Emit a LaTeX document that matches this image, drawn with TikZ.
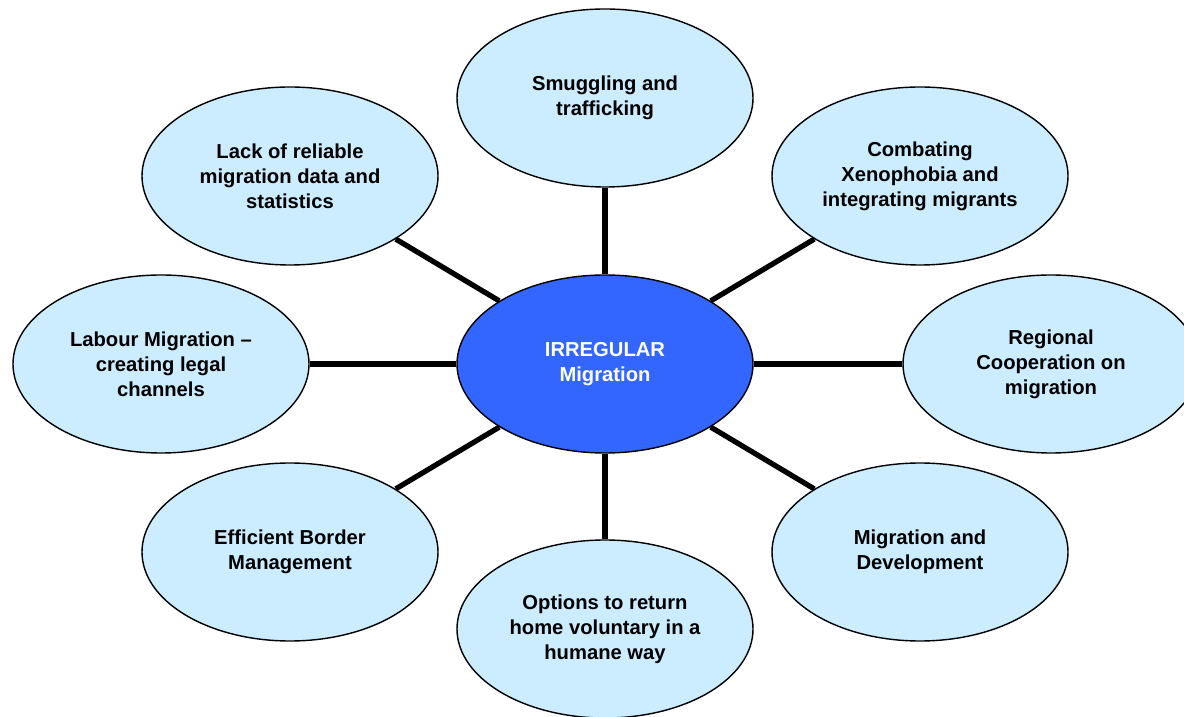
\documentclass[tikz,border=0pt]{standalone}
\usepackage{fontspec}
\setmainfont{Liberation Sans}
\usepackage{tikz}
\usetikzlibrary{shapes}
\definecolor{paleblue}{HTML}{CCECFF}
\definecolor{hubblue}{HTML}{3366FF}
\tikzstyle{topic}=[ellipse,fill=paleblue,draw,line width=0.8pt,minimum width=5.92cm,minimum height=3.56cm,inner sep=0pt,align=center,font=\fontsize{11.5}{14.2}\selectfont\bfseries]
\tikzstyle{hub}=[topic,fill=hubblue,text=white]
\tikzstyle{spoke} = [draw,line width=3pt]

\begin{document}
\begin{tikzpicture}
    \useasboundingbox (0,0) rectangle (23.68,14.32);

    \node[hub] (irregular) at (12.10,7.04) {IRREGULAR\\Migration};

    \foreach \pos/ \name/ \text in {{(12.10,12.36)/smuggling/{Smuggling and\\trafficking}},
        {(5.80,10.80)/data/{Lack of reliable\\migration data and\\statistics}},
        {(18.40,10.80)/xenophobia/{Combating\\Xenophobia and\\integrating migrants}},
        {(3.22,7.04)/labour/{Labour Migration --\\creating legal\\channels}},
        {(21.02,7.04)/regional/{Regional\\Cooperation on\\migration}},
        {(5.80,3.28)/border/{Efficient Border\\Management}},
        {(18.40,3.28)/development/{Migration and\\Development}},
        {(12.10,1.74)/return/{Options to return\\home voluntary in a\\humane way}}}
        \node[topic] (\name) at \pos {\text};

    % Connect the hub with every topic
    \foreach \dest in {smuggling,data,xenophobia,labour,regional,border,development,return}
        \path[spoke] (irregular) -- (\dest);

\end{tikzpicture}
\end{document}
